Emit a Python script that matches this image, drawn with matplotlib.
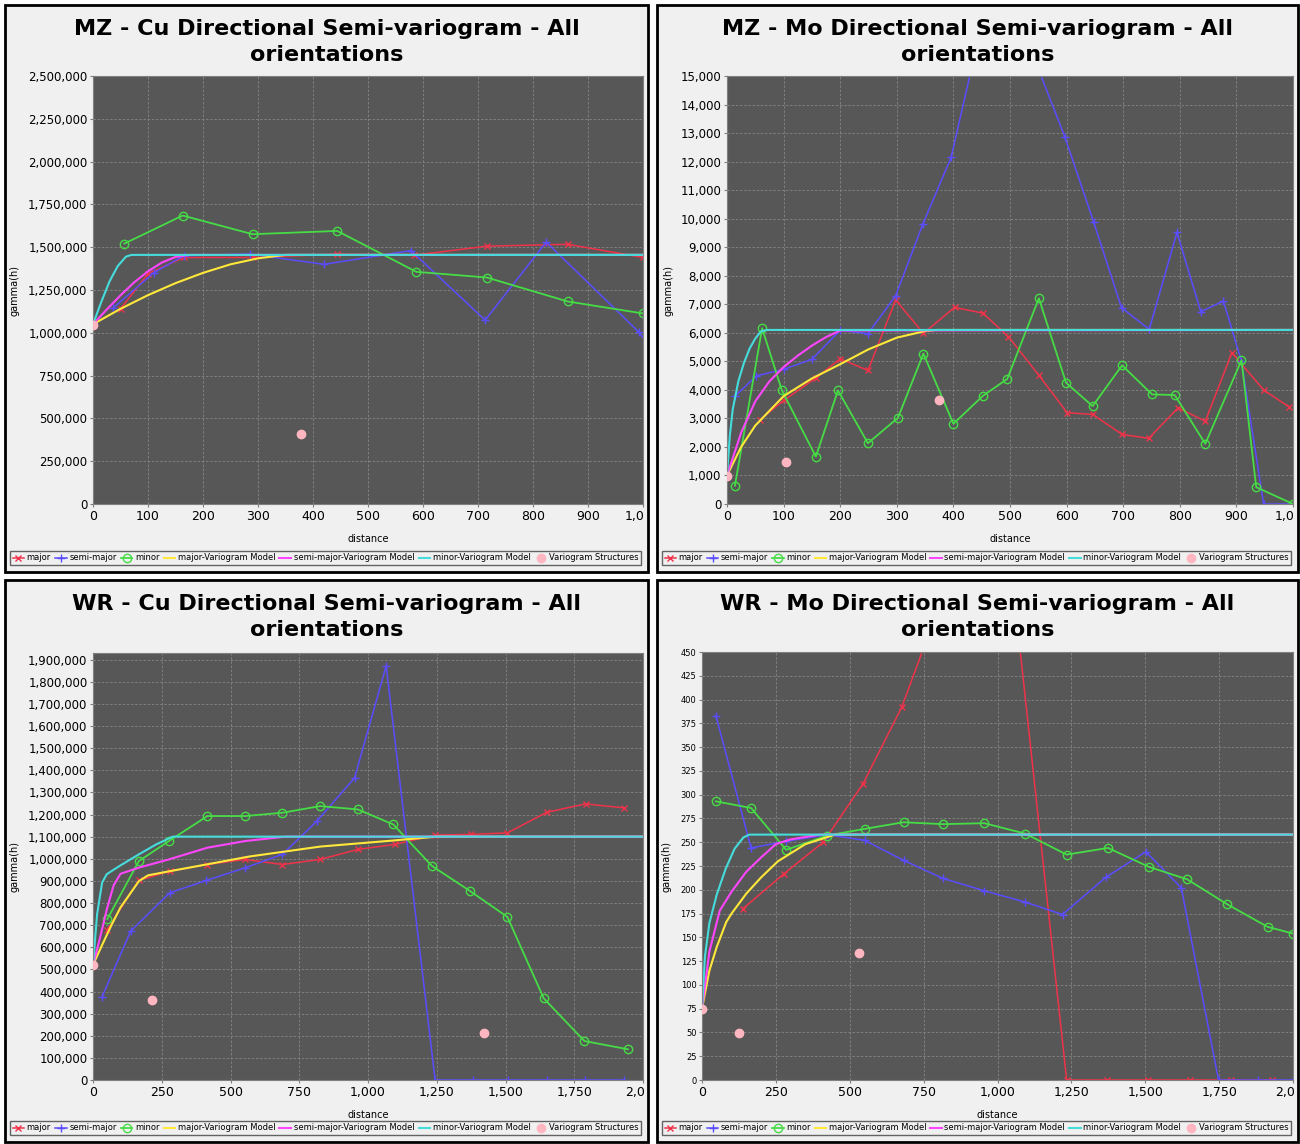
import matplotlib.pyplot as plt
from matplotlib.patches import Rectangle
from matplotlib.transforms import Bbox, TransformedBbox
from matplotlib.ticker import FuncFormatter, MultipleLocator

plt.rcParams['font.family'] = ['DejaVu Sans']

# MZ - Cu
mzcu_major_x = [50, 100, 165, 290, 444, 583, 716, 863, 1000]
mzcu_major_y = [1140000, 1345000, 1440000, 1440000, 1459000, 1453000, 1506000, 1517000, 1440000]
mzcu_semi_x = [37, 110, 165, 285, 420, 578, 713, 824, 992, 1040]
mzcu_semi_y = [1146000, 1350000, 1450000, 1460000, 1400000, 1480000, 1074000, 1530000, 1006000, 800000]
mzcu_minor_x = [57, 163, 290, 444, 588, 716, 863, 1000]
mzcu_minor_y = [1521000, 1685000, 1576000, 1595000, 1356000, 1323000, 1183000, 1113000]
mzcu_mod_major_x = [0, 50, 100, 150, 200, 250, 300, 350, 1000]
mzcu_mod_major_y = [1050000, 1140000, 1220000, 1290000, 1350000, 1400000, 1435000, 1455000, 1455000]
mzcu_mod_semi_x = [0, 25, 50, 75, 100, 125, 150, 175, 1000]
mzcu_mod_semi_y = [1050000, 1136000, 1219000, 1295000, 1359000, 1410000, 1443000, 1455000, 1455000]
mzcu_mod_minor_x = [0, 15, 30, 45, 60, 70, 1000]
mzcu_mod_minor_y = [1050000, 1180000, 1300000, 1390000, 1445000, 1455000, 1455000]
mzcu_struct_x = [0, 378]
mzcu_struct_y = [1045000, 408000]

# MZ - Mo
mzmo_major_x = [59, 100, 158, 200, 249, 298, 347, 402, 452, 497, 551, 601, 646, 698, 745, 797, 845, 892, 948, 993]
mzmo_major_y = [2960, 3630, 4430, 5090, 4680, 7150, 5980, 6890, 6690, 5870, 4510, 3200, 3140, 2440, 2300, 3370, 2900, 5300, 4000, 3400]
mzmo_semi_x = [14, 52, 100, 150, 200, 249, 298, 346, 396, 452, 500, 551, 597, 648, 697, 746, 795, 837, 877, 909, 948, 1000]
mzmo_semi_y = [3780, 4490, 4720, 5070, 6090, 5970, 7300, 9810, 12150, 17000, 17800, 15200, 12860, 9870, 6880, 6120, 9520, 6740, 7110, 5000, 0, 0]
mzmo_minor_x = [14, 62, 97, 157, 196, 249, 302, 347, 400, 452, 495, 551, 599, 646, 698, 751, 791, 845, 909, 935, 1000]
mzmo_minor_y = [640, 6160, 3980, 1660, 3980, 2130, 3020, 5270, 2810, 3790, 4380, 7210, 4250, 3430, 4860, 3840, 3820, 2110, 5040, 590, 0]
mzmo_mod_major_x = [0, 25, 50, 100, 150, 200, 250, 300, 350, 370, 1000]
mzmo_mod_major_y = [1000, 2000, 2750, 3780, 4400, 4900, 5420, 5830, 6060, 6100, 6100]
mzmo_mod_semi_x = [0, 25, 50, 75, 100, 125, 150, 175, 200, 1000]
mzmo_mod_semi_y = [1000, 2500, 3600, 4300, 4800, 5200, 5550, 5850, 6080, 6100]
mzmo_mod_minor_x = [0, 5, 10, 20, 30, 40, 50, 60, 70, 1000]
mzmo_mod_minor_y = [1000, 2400, 3300, 4300, 4950, 5450, 5800, 6050, 6100, 6100]
mzmo_struct_x = [0, 105, 375]
mzmo_struct_y = [970, 1475, 3640]

# WR - Cu
wrcu_major_x = [52, 166, 280, 416, 553, 689, 826, 963, 1097, 1244, 1373, 1507, 1650, 1791, 1931]
wrcu_major_y = [680000, 902000, 944000, 974000, 997000, 974000, 997000, 1042000, 1065000, 1107000, 1110000, 1117000, 1210000, 1248000, 1230000]
wrcu_semi_x = [33, 137, 279, 412, 553, 689, 814, 951, 1066, 1244, 1380, 1510, 1650, 1790, 1930]
wrcu_semi_y = [376000, 673000, 846000, 902000, 959000, 1020000, 1170000, 1365000, 1872000, 0, 0, 0, 0, 0, 0]
wrcu_minor_x = [52, 167, 276, 416, 553, 689, 826, 963, 1092, 1232, 1370, 1507, 1639, 1787, 1945]
wrcu_minor_y = [727000, 990000, 1080000, 1193000, 1193000, 1208000, 1238000, 1223000, 1155000, 968000, 855000, 737000, 369000, 176000, 139000]
wrcu_mod_major_x = [0, 33, 67, 100, 167, 200, 280, 416, 568, 826, 1097, 1250, 2000]
wrcu_mod_major_y = [520000, 610000, 700000, 780000, 899000, 925000, 944000, 975000, 1010000, 1055000, 1083000, 1100000, 1100000]
wrcu_mod_semi_x = [0, 25, 50, 75, 100, 167, 276, 416, 553, 700, 2000]
wrcu_mod_semi_y = [520000, 640000, 770000, 880000, 932000, 960000, 997000, 1050000, 1080000, 1100000, 1100000]
wrcu_mod_minor_x = [0, 15, 33, 50, 67, 100, 167, 230, 290, 2000]
wrcu_mod_minor_y = [520000, 750000, 892000, 930000, 944000, 970000, 1020000, 1065000, 1100000, 1100000]
wrcu_struct_x = [0, 214, 1422]
wrcu_struct_y = [520000, 360000, 214000]

# WR - Mo
wrmo_major_x = [138, 278, 410, 544, 676, 810, 943, 1234, 1370, 1510, 1650, 1790, 1930]
wrmo_major_y = [180, 217, 250, 311, 392, 505, 835, 0, 0, 0, 0, 0, 0]
wrmo_semi_x = [47, 166, 285, 424, 550, 682, 815, 955, 1094, 1220, 1366, 1502, 1622, 1748, 1880, 2000]
wrmo_semi_y = [383, 244, 251, 258, 252, 231, 212, 199, 187, 174, 213, 240, 202, 0, 0, 0]
wrmo_minor_x = [47, 166, 285, 424, 550, 682, 815, 955, 1094, 1234, 1374, 1513, 1642, 1776, 1914, 2000]
wrmo_minor_y = [293, 286, 242, 257, 264, 271, 269, 270, 259, 237, 244, 224, 211, 185, 161, 154]
wrmo_mod_major_x = [0, 25, 50, 82, 100, 150, 200, 257, 350, 450, 2000]
wrmo_mod_major_y = [75, 115, 140, 166, 175, 196, 213, 230, 248, 258, 258]
wrmo_mod_semi_x = [0, 25, 60, 100, 150, 200, 250, 300, 400, 2000]
wrmo_mod_semi_y = [75, 135, 178, 198, 219, 234, 248, 253, 258, 258]
wrmo_mod_minor_x = [0, 10, 25, 50, 80, 110, 140, 160, 2000]
wrmo_mod_minor_y = [75, 130, 165, 195, 222, 243, 255, 258, 258]
wrmo_struct_x = [0, 124, 532]
wrmo_struct_y = [75, 49, 134]

W, H = 1300, 1144


def fx(px):
    return px / W


def fy(py):
    return 1 - py / H


fig = plt.figure(figsize=(13, 11.44), dpi=100, facecolor='white')


def draw_panel(box, axbox, title, xmax, xstep, ymax, ystep, data, ytick_size, ylab_px):
    x0, y0, x1, y1 = box
    fig.patches.append(Rectangle((fx(x0), fy(y1)), fx(x1) - fx(x0), fy(y0) - fy(y1),
                                 transform=fig.transFigure, facecolor='#f0f0f0',
                                 edgecolor='black', lw=2, zorder=-5))
    l, t, r, b = axbox
    ax = fig.add_axes([fx(l), fy(b), fx(r) - fx(l), fy(t) - fy(b)])
    ax.set_facecolor('#575757')
    (mjx, mjy, smx, smy, mnx, mny, m1x, m1y, m2x, m2y, m3x, m3y, sx, sy) = data
    ax.plot(mjx, mjy, color='#f0334a', lw=1.1, marker='x', ms=5, mew=1, label='major')
    ax.plot(smx, smy, color='#5b4dff', lw=1.1, marker='+', ms=6, mew=1, label='semi-major')
    ax.plot(mnx, mny, color='#46dc46', lw=1.3, marker='o', ms=6, mfc='none', mew=1, label='minor')
    ax.plot(m1x, m1y, color='#ffe83a', lw=1.5, label='major-Variogram Model')
    ax.plot(m2x, m2y, color='#ff46ff', lw=1.5, label='semi-major-Variogram Model')
    ax.plot(m3x, m3y, color='#46dcdc', lw=1.5, label='minor-Variogram Model')
    ax.plot(sx, sy, color='#ffb6c1', lw=0, marker='o', ms=6, label='Variogram Structures', zorder=5)
    ax.set_xlim(0, xmax)
    ax.set_ylim(0, ymax)
    ax.xaxis.set_major_locator(MultipleLocator(xstep))
    ax.yaxis.set_major_locator(MultipleLocator(ystep))
    ax.xaxis.set_major_formatter(FuncFormatter(lambda v, p: '{:,.0f}'.format(v)))
    ax.yaxis.set_major_formatter(FuncFormatter(lambda v, p: '{:,.0f}'.format(v)))
    ax.tick_params(axis='x', labelsize=9, length=2, color='#808080', pad=2)
    ax.tick_params(axis='y', labelsize=ytick_size, length=2, color='#808080', pad=2)
    ax.grid(True, color='#858585', lw=0.6, ls=(0, (3, 2)))
    ax.set_axisbelow(True)
    for s in ax.spines.values():
        s.set_color('#808080')
        s.set_linewidth(0.8)
    ax.set_xlabel('distance', fontsize=7)
    ax.xaxis.set_label_coords(0.5, (fy(b + 30) - fy(b)) / (fy(t) - fy(b)))
    ax.set_ylabel('gamma(h)', fontsize=7)
    ax.yaxis.set_label_coords((ylab_px - l) / (r - l), 0.5)
    fig.text(fx((x0 + x1) / 2), fy(y0 + 37), title, ha='center', va='center',
             fontsize=16, fontweight='bold', linespacing=1.42)
    ax.legend(loc='center', bbox_to_anchor=(fx(x0 + 5), fy(y1 - 4), fx(x1 - 7) - fx(x0 + 5), fy(y1 - 24) - fy(y1 - 4)),
              bbox_transform=fig.transFigure, mode='expand', ncol=7, fontsize=6,
              frameon=True, fancybox=False, edgecolor='#404040', facecolor='#f0f0f0',
              handlelength=1.4, handletextpad=0.3, columnspacing=0.6, borderpad=0.3,
              borderaxespad=0)
    return ax, box


panels = []
panels.append(draw_panel((5, 5, 648, 572), (93, 76, 643, 504),
                         'MZ - Cu Directional Semi-variogram - All\norientations',
                         1000, 100, 2500000, 250000,
                         (mzcu_major_x, mzcu_major_y, mzcu_semi_x, mzcu_semi_y, mzcu_minor_x, mzcu_minor_y,
                          mzcu_mod_major_x, mzcu_mod_major_y, mzcu_mod_semi_x, mzcu_mod_semi_y,
                          mzcu_mod_minor_x, mzcu_mod_minor_y, mzcu_struct_x, mzcu_struct_y),
                         8.5, 20))
panels.append(draw_panel((657, 5, 1298, 572), (727, 76, 1293, 504),
                         'MZ - Mo Directional Semi-variogram - All\norientations',
                         1000, 100, 15000, 1000,
                         (mzmo_major_x, mzmo_major_y, mzmo_semi_x, mzmo_semi_y, mzmo_minor_x, mzmo_minor_y,
                          mzmo_mod_major_x, mzmo_mod_major_y, mzmo_mod_semi_x, mzmo_mod_semi_y,
                          mzmo_mod_minor_x, mzmo_mod_minor_y, mzmo_struct_x, mzmo_struct_y),
                         8.5, 673))
panels.append(draw_panel((5, 580, 648, 1142), (93, 653, 643, 1080),
                         'WR - Cu Directional Semi-variogram - All\norientations',
                         2000, 250, 1930000, 100000,
                         (wrcu_major_x, wrcu_major_y, wrcu_semi_x, wrcu_semi_y, wrcu_minor_x, wrcu_minor_y,
                          wrcu_mod_major_x, wrcu_mod_major_y, wrcu_mod_semi_x, wrcu_mod_semi_y,
                          wrcu_mod_minor_x, wrcu_mod_minor_y, wrcu_struct_x, wrcu_struct_y),
                         8.5, 20))
panels.append(draw_panel((657, 580, 1298, 1142), (702, 652, 1293, 1080),
                         'WR - Mo Directional Semi-variogram - All\norientations',
                         2000, 250, 450, 25,
                         (wrmo_major_x, wrmo_major_y, wrmo_semi_x, wrmo_semi_y, wrmo_minor_x, wrmo_minor_y,
                          wrmo_mod_major_x, wrmo_mod_major_y, wrmo_mod_semi_x, wrmo_mod_semi_y,
                          wrmo_mod_minor_x, wrmo_mod_minor_y, wrmo_struct_x, wrmo_struct_y),
                         6, 672))

# the last x label is cut off by the panel edge in the source, so clip it the same way
fig.canvas.draw()
for ax, (x0, y0, x1, y1) in panels:
    clip = TransformedBbox(Bbox([[fx(x0), fy(y1)], [fx(x1 - 4), fy(y0)]]), fig.transFigure)
    for tick in ax.xaxis.get_major_ticks():
        tick.label1.set_clip_box(clip)
        tick.label1.set_clip_on(True)

fig.savefig('out.png', dpi=100, facecolor='white')
